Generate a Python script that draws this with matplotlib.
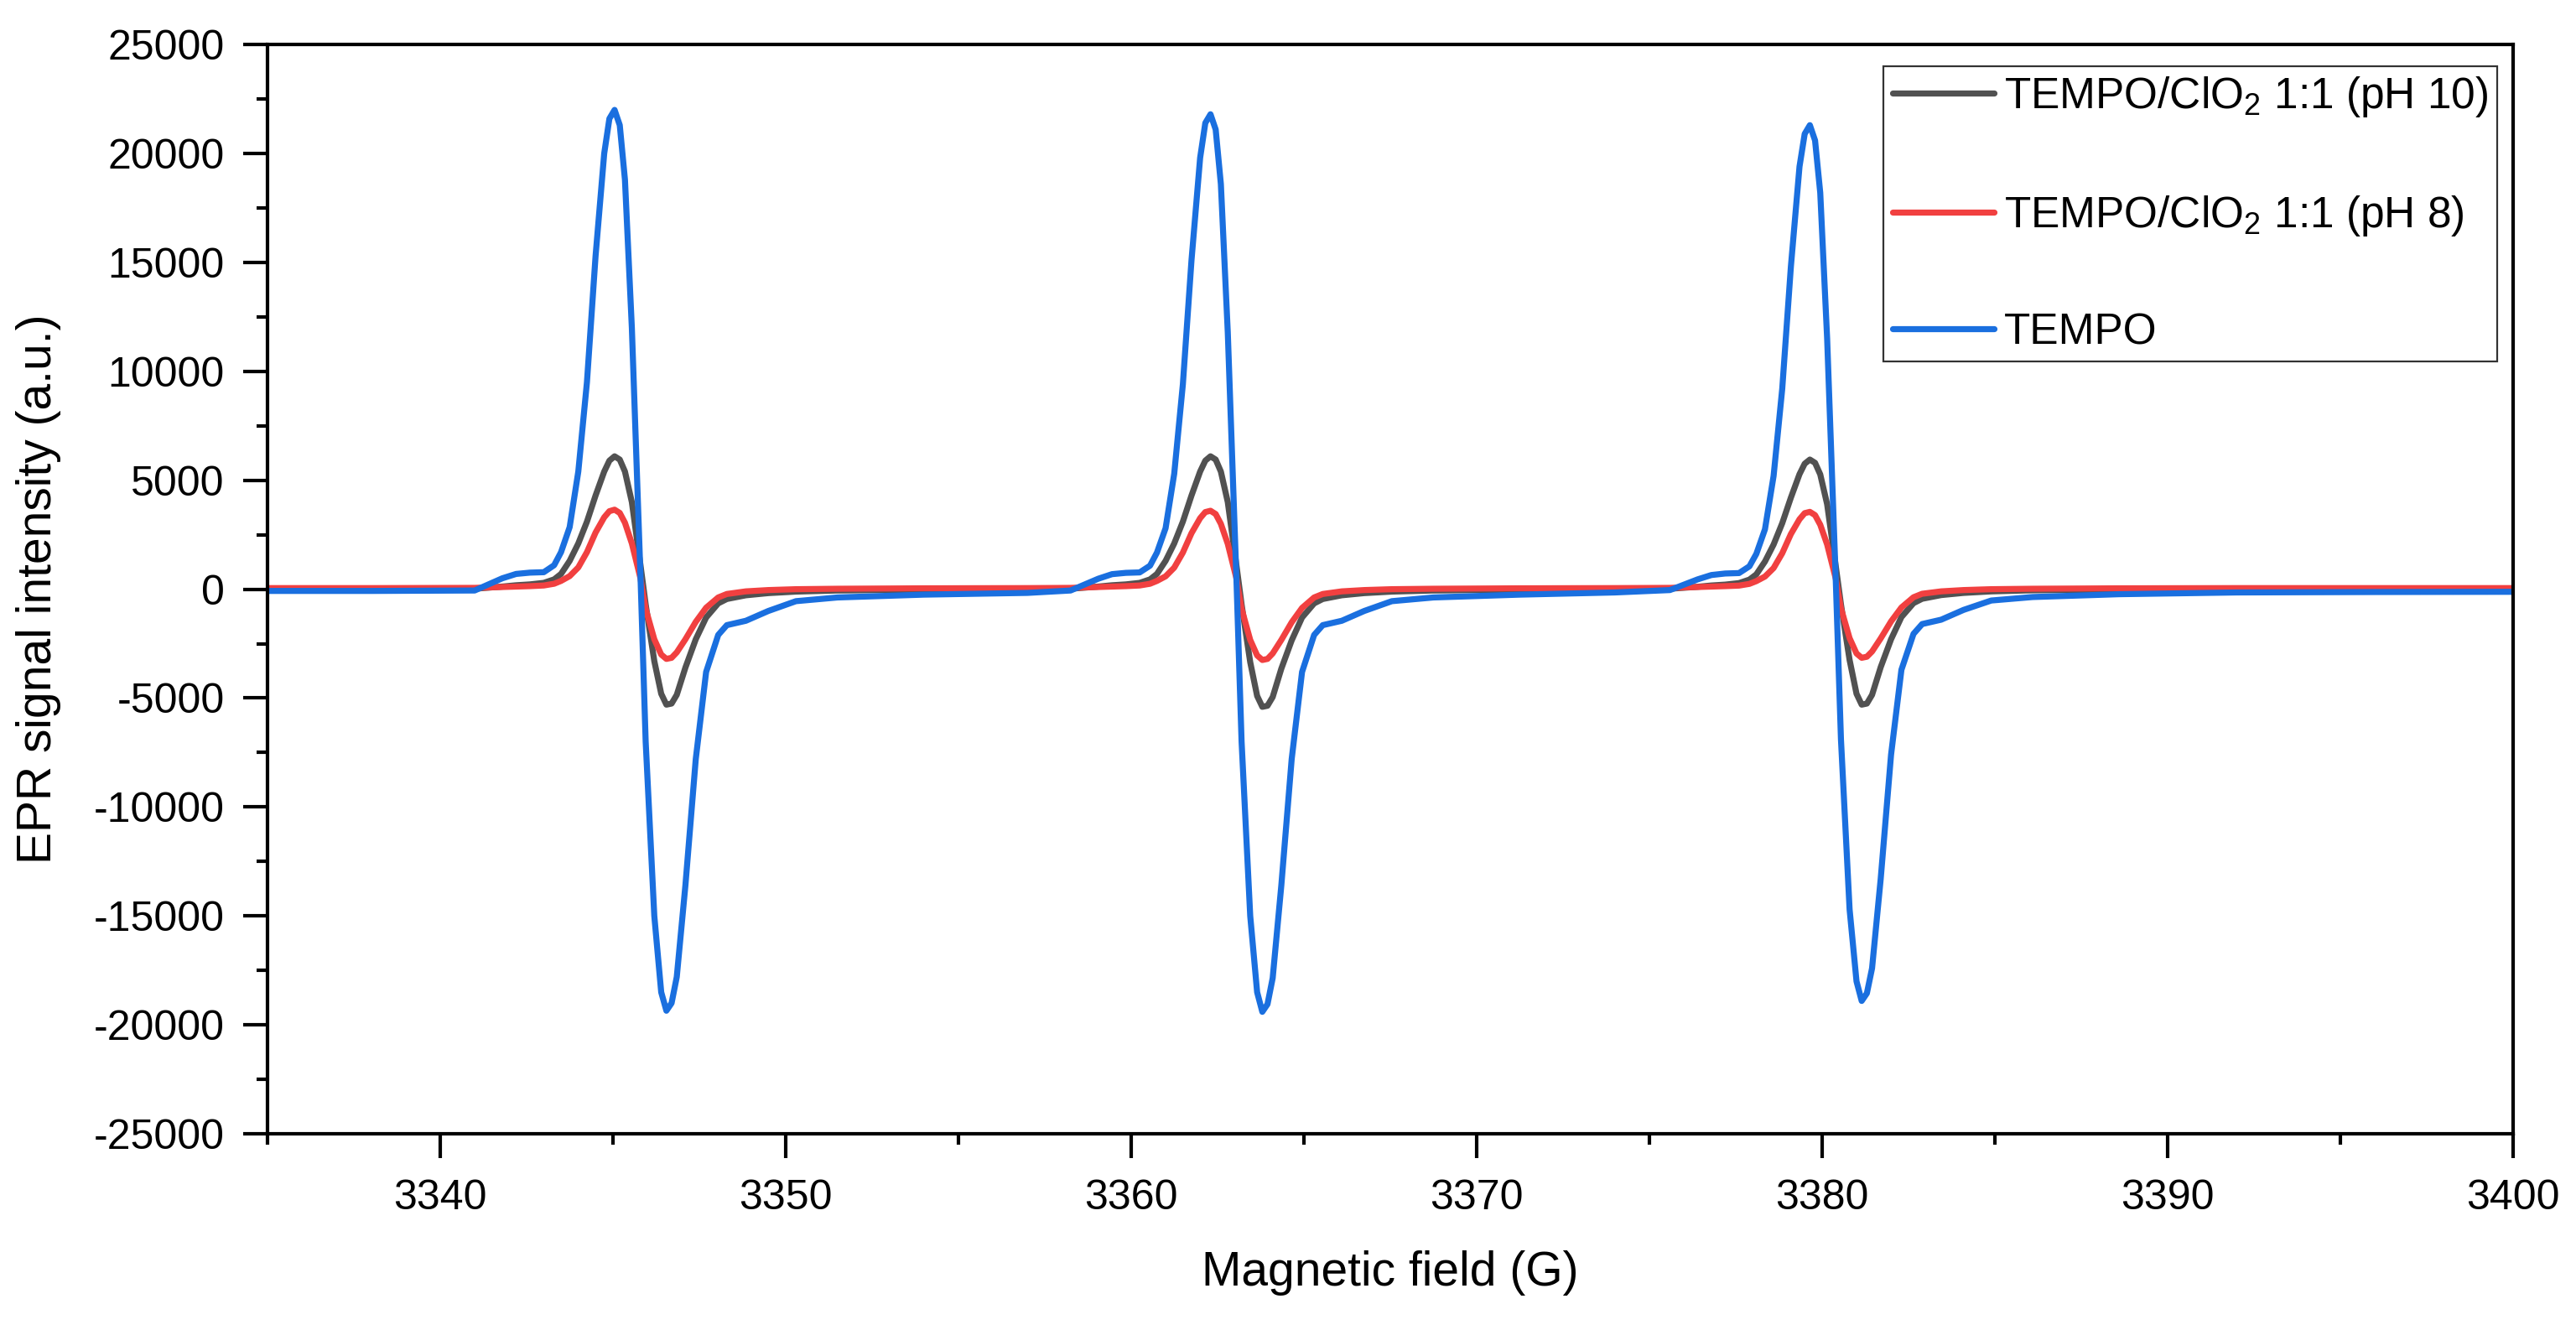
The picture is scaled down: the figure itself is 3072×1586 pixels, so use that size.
import matplotlib
matplotlib.use("Agg")
import matplotlib.pyplot as plt
from matplotlib.ticker import MultipleLocator

plt.rcParams['font.family'] = ['Liberation Sans', 'DejaVu Sans']
plt.rcParams['mathtext.default'] = 'regular'
plt.rcParams['axes.unicode_minus'] = False

# magnetic field (G)
field = [
    3335.0, 3338.0,
    # line 1
    3341.0, 3341.8, 3342.2, 3342.6, 3343.0, 3343.3, 3343.5, 3343.75, 3344.0, 3344.25,
    3344.5, 3344.75, 3344.9, 3345.05, 3345.2, 3345.35, 3345.55, 3345.8, 3345.95, 3346.2,
    3346.4, 3346.55, 3346.7, 3346.85, 3347.1, 3347.4, 3347.7, 3348.05, 3348.3, 3348.85,
    3349.5, 3350.3, 3351.5, 3354.0,
    3357.0,
    # line 2
    3358.25, 3359.05, 3359.45, 3359.85, 3360.25, 3360.55, 3360.75, 3361.0, 3361.25, 3361.5,
    3361.75, 3362.0, 3362.15, 3362.3, 3362.45, 3362.6, 3362.8, 3363.05, 3363.2, 3363.45,
    3363.65, 3363.8, 3363.95, 3364.1, 3364.35, 3364.65, 3364.95, 3365.3, 3365.55, 3366.1,
    3366.75, 3367.55, 3368.75, 3371.25,
    3374.0,
    # line 3
    3375.6, 3376.4, 3376.8, 3377.2, 3377.6, 3377.9, 3378.1, 3378.35, 3378.6, 3378.85,
    3379.1, 3379.35, 3379.5, 3379.65, 3379.8, 3379.95, 3380.15, 3380.4, 3380.55, 3380.8,
    3381.0, 3381.15, 3381.3, 3381.45, 3381.7, 3382.0, 3382.3, 3382.65, 3382.9, 3383.45,
    3384.1, 3384.9, 3386.1, 3388.6,
    3392.0, 3396.0, 3400.0,
]

# TEMPO/ClO2 1:1 (pH 10)
ph10 = [
    0, 0,
    20, 120, 180, 220, 290, 450, 700, 1300, 2100, 3100,
    4300, 5400, 5900, 6100, 5950, 5400, 4000, 1100, -700, -3300,
    -4800, -5300, -5250, -4850, -3600, -2300, -1300, -650, -450, -280,
    -180, -110, -60, -20,
    0,
    20, 120, 180, 220, 290, 450, 700, 1300, 2100, 3100,
    4300, 5400, 5900, 6100, 5950, 5400, 4000, 1100, -700, -3350,
    -4900, -5400, -5350, -4950, -3650, -2350, -1300, -650, -450, -280,
    -180, -110, -60, -20,
    0,
    20, 110, 170, 210, 280, 440, 680, 1270, 2050, 3030,
    4200, 5280, 5760, 5950, 5800, 5270, 3900, 1050, -700, -3250,
    -4800, -5300, -5250, -4850, -3580, -2300, -1280, -640, -440, -270,
    -170, -100, -50, -20,
    0, 0, 0,
]

# TEMPO/ClO2 1:1 (pH 8)
ph8 = [
    50, 50,
    60, 100, 120, 140, 170, 250, 380, 600, 1000, 1700,
    2600, 3300, 3580, 3650, 3500, 3050, 2100, 500, -900, -2300,
    -3000, -3200, -3150, -2900, -2300, -1500, -850, -380, -220, -100,
    -40, 0, 20, 40,
    50,
    60, 100, 120, 140, 170, 250, 380, 590, 990, 1680,
    2570, 3260, 3540, 3600, 3450, 3000, 2080, 500, -900, -2330,
    -3040, -3250, -3200, -2950, -2330, -1520, -860, -380, -220, -100,
    -40, 0, 20, 40,
    50,
    60, 100, 120, 140, 165, 245, 370, 580, 970, 1650,
    2530, 3210, 3490, 3550, 3400, 2960, 2050, 480, -880, -2250,
    -2950, -3150, -3100, -2860, -2260, -1480, -840, -370, -210, -100,
    -40, 0, 20, 40,
    50, 50, 50,
]

# TEMPO
tempo = [
    -80, -80,
    -60, 500, 700, 760, 780, 1100, 1700, 2850, 5400, 9500,
    15300, 20000, 21600, 22000, 21300, 18800, 12000, 600, -7000, -15000,
    -18500, -19350, -19000, -17800, -13600, -7800, -3800, -2100, -1650, -1450,
    -1000, -550, -380, -250,
    -170,
    -60, 480, 690, 750, 770, 1080, 1680, 2800, 5300, 9400,
    15100, 19800, 21400, 21800, 21100, 18600, 11800, 500, -7000, -15000,
    -18500, -19400, -19050, -17850, -13600, -7800, -3800, -2100, -1650, -1450,
    -1000, -550, -380, -250,
    -150,
    -40, 450, 650, 720, 740, 1050, 1620, 2750, 5200, 9200,
    14800, 19400, 20900, 21300, 20600, 18200, 11500, 400, -6900, -14700,
    -18000, -18900, -18550, -17400, -13300, -7600, -3700, -2050, -1600, -1400,
    -950, -520, -360, -230,
    -150, -130, -120,
]

labels = ['TEMPO/ClO$_2$ 1:1 (pH 10)', 'TEMPO/ClO$_2$ 1:1 (pH 8)', 'TEMPO']
colors = ['#515151', '#F14040', '#1A6FDF']

fig = plt.figure(figsize=(15.36, 7.93), dpi=200)
ax = fig.add_axes([0.1038, 0.1475, 0.8717, 0.819])

for y, lab, c in zip([ph10, ph8, tempo], labels, colors):
    ax.plot(field, y, color=c, lw=2.6, label=lab, solid_joinstyle='round', solid_capstyle='round')

ax.set_xlim(3335, 3400)
ax.set_ylim(-25000, 25000)
ax.xaxis.set_major_locator(MultipleLocator(10))
ax.xaxis.set_minor_locator(MultipleLocator(5))
ax.yaxis.set_major_locator(MultipleLocator(5000))
ax.yaxis.set_minor_locator(MultipleLocator(2500))

for s in ax.spines.values():
    s.set_linewidth(1.5)
ax.tick_params(which='both', direction='out', width=1.5, labelsize=18, top=False, right=False)
ax.tick_params(which='major', length=10.4)
ax.tick_params(which='minor', length=4.7)
ax.tick_params(axis='x', pad=9)
ax.tick_params(axis='y', pad=8)

ax.set_xlabel('Magnetic field (G)', fontsize=20.5, labelpad=14)
ax.set_ylabel('EPR signal intensity (a.u.)', fontsize=20.5, labelpad=14)

leg = ax.legend(loc='upper right', bbox_to_anchor=(0.993, 0.980), borderaxespad=0,
                fontsize=18.5, frameon=True, fancybox=False, edgecolor='black',
                handlelength=2.35, handletextpad=0.25, borderpad=0.2, labelspacing=1.72)
leg.get_frame().set_linewidth(0.8)

fig.savefig('out.png', dpi=200)
